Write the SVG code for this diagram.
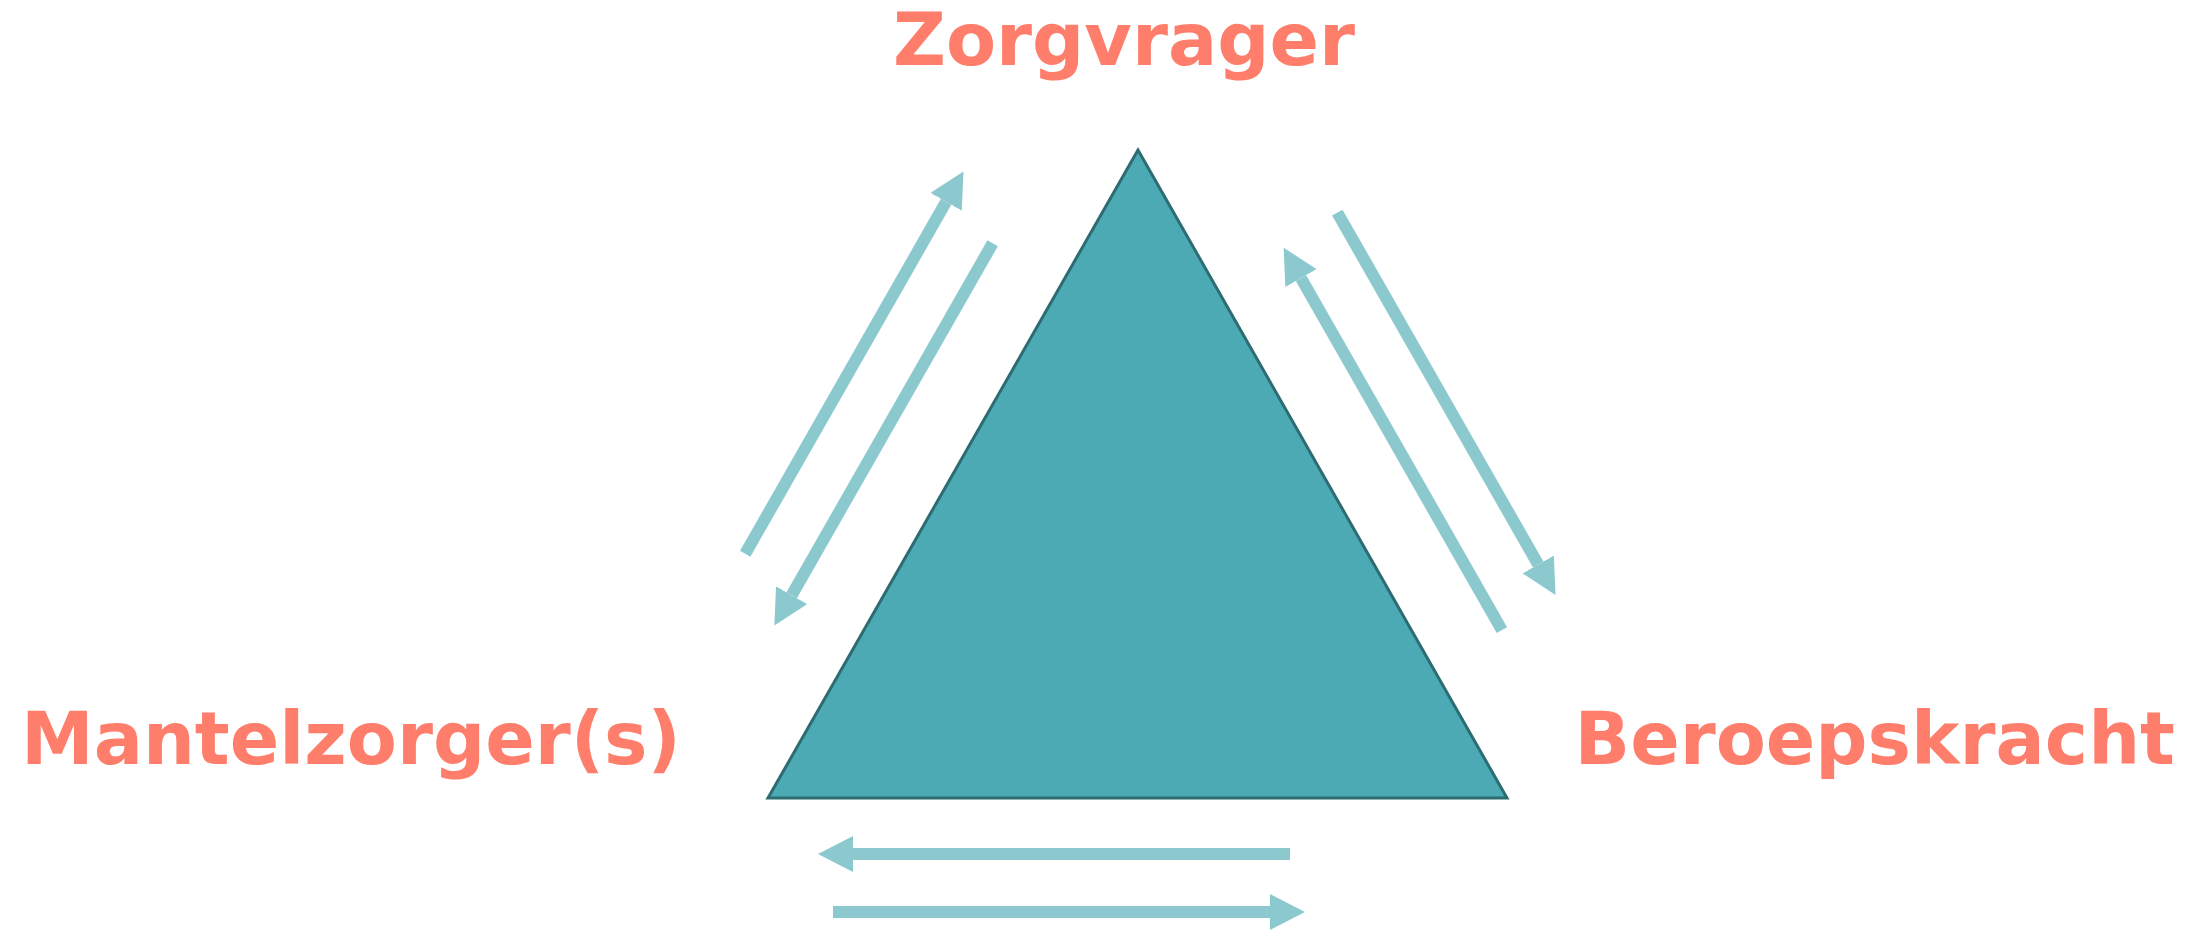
<svg xmlns="http://www.w3.org/2000/svg" width="2205" height="930" viewBox="0 0 2205 930">
<style>
.lbl{font-family:"DejaVu Sans","Liberation Sans",sans-serif;font-weight:bold;font-size:73px;fill:#FF7E6B}
.conn{stroke:#8BC9CF;stroke-width:12;fill:none}
</style>
<defs>
<marker id="ah" viewBox="0 0 35 36" refX="0" refY="18" markerWidth="35" markerHeight="36" markerUnits="userSpaceOnUse" orient="auto"><path d="M0,0 L35,18 L0,36 Z" fill="#8BC9CF"/></marker>
</defs>
<rect width="2205" height="930" fill="#ffffff"/>
<g id="triangle"><polygon points="1138,150 768,798 1507,798" fill="#4BAAB4" stroke="#2C6C72" stroke-width="3" stroke-linejoin="miter"/></g>
<g id="zorgvrager"><text class="lbl" x="1124" y="65" text-anchor="middle">Zorgvrager</text></g>
<g id="mantelzorger"><text class="lbl" x="21" y="764">Mantelzorger(s)</text></g>
<g id="beroepskracht"><text class="lbl" x="2175" y="764" text-anchor="end">Beroepskracht</text></g>
<g id="connectors">
<line class="conn" x1="745.2" y1="553.7" x2="946.1" y2="201.8" marker-end="url(#ah)"/>
<line class="conn" x1="992.6" y1="243.3" x2="791.7" y2="595.2" marker-end="url(#ah)"/>
<line class="conn" x1="1501.9" y1="630.1" x2="1301" y2="278.1" marker-end="url(#ah)"/>
<line class="conn" x1="1337.3" y1="212.6" x2="1538.2" y2="564.5" marker-end="url(#ah)"/>
<line class="conn" x1="1290" y1="854" x2="853" y2="854" marker-end="url(#ah)"/>
<line class="conn" x1="833" y1="912" x2="1270" y2="912" marker-end="url(#ah)"/>
</g>
</svg>
